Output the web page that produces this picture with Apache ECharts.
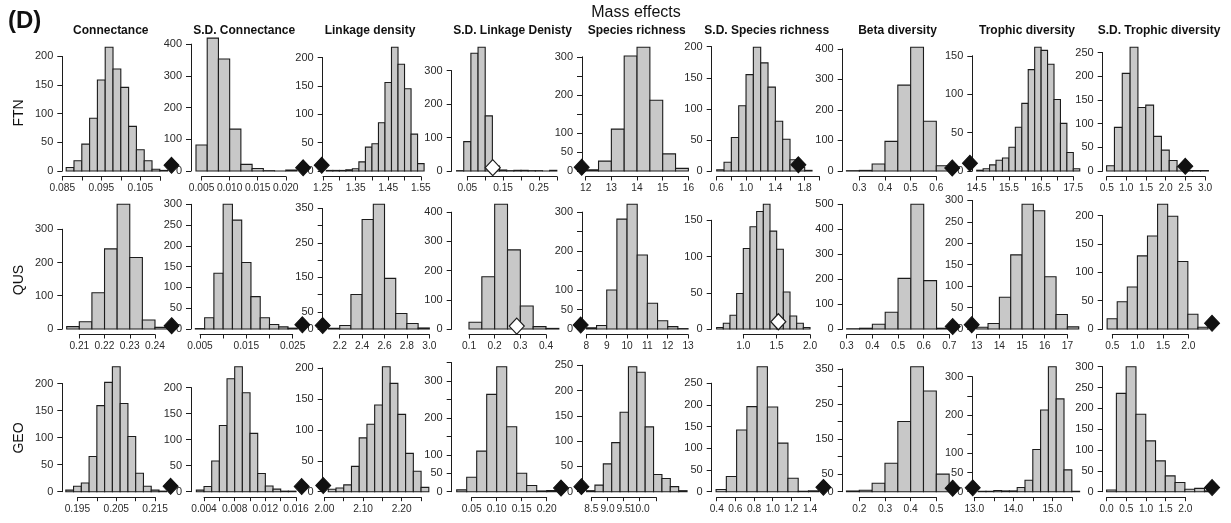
<!DOCTYPE html>
<html>
<head>
<meta charset="utf-8">
<title>Mass effects</title>
<script src="https://cdn.jsdelivr.net/npm/echarts@6/dist/echarts.min.js"></script>
<style>
  html, body { margin: 0; padding: 0; background: #ffffff; }
  #chart { width: 1231px; height: 523px; }
</style>
</head>
<body>
<div id="chart"></div>
<script>
// ---- Panel names ----------------------------------------------------------
const metrics = ['Connectance', 'S.D. Connectance', 'Linkage density', 'S.D. Linkage Denisty',
  'Species richness', 'S.D. Species richness', 'Beta diversity', 'Trophic diversity',
  'S.D. Trophic diversity'];
const regions = ['FTN', 'QUS', 'GEO'];

// ---- FTN -------------------------------------------------------------------
// histogram bins: [first break, bin width]
const binsFTN = [[0.086, 0.002], [0.004, 0.002], [1.26, 0.02], [0.02, 0.02], [12, 0.5],
  [0.6, 0.1], [0.25, 0.05], [14.5, 0.2], [0.5, 0.2]];
const countsFTN = [
  [6, 18, 47, 92, 159, 216, 178, 146, 78, 37, 18, 3, 1],
  [82, 419, 353, 132, 21, 8, 1, 0, 3],
  [1, 1, 1, 2, 4, 16, 42, 48, 85, 156, 218, 188, 145, 65, 13],
  [1, 88, 352, 370, 165, 15, 3, 1, 2, 2, 1, 1, 0, 2],
  [3, 26, 110, 302, 325, 186, 45, 7],
  [2, 14, 54, 105, 155, 199, 174, 135, 80, 51, 18, 6, 1],
  [1, 2, 23, 97, 281, 405, 163, 17],
  [1, 3, 8, 14, 17, 31, 57, 88, 132, 161, 157, 139, 93, 62, 24, 3],
  [11, 92, 206, 261, 134, 139, 73, 44, 22, 9, 1, 1, 1]
];
const observedFTN = [0.113, 0.0231, 1.246, 0.121, 11.844, 1.714, 0.662, 14.29, 2.51];
const openFTN = [false, false, false, true, false, false, false, false, false];
const xRangeFTN = [[0.085, 0.11397], [0.00311, 0.02325], [1.249, 1.5956], [0.0064, 0.322],
  [11.856, 16.258], [0.5318, 2.073], [0.2353, 0.6755], [14.363, 17.872], [0.398, 3.271]];
const xTicksFTN = [[0.085, 0.005], [0.005, 0.005], [1.25, 0.05], [0.05, 0.05], [12, 1],
  [0.6, 0.2], [0.3, 0.1], [14.5, 0.5], [0.5, 0.5]];
const xLabelsFTN = [
  ['0.085', '', '0.095', '', '0.105', ''],
  ['0.005', '0.010', '0.015', '0.020'],
  ['1.25', '', '1.35', '', '1.45', '', '1.55'],
  ['0.05', '', '0.15', '', '0.25', ''],
  ['12', '13', '14', '15', '16'],
  ['0.6', '', '1.0', '', '1.4', '', '1.8', ''],
  ['0.3', '0.4', '0.5', '0.6'],
  ['14.5', '', '15.5', '', '16.5', '', '17.5'],
  ['0.5', '1.0', '1.5', '2.0', '2.5', '3.0']
];
const yMaxFTN = [216, 390, 218, 370, 325, 199, 405, 161, 261];
const yTicksFTN = [[50, 200], [100, 400], [50, 200], [100, 300], [50, 300], [50, 200], [100, 400], [50, 150], [50, 250]];
const yHiddenFTN = [[], [], [], [], [150, 250], [], [], [], []];

// ---- QUS -------------------------------------------------------------------
const binsQUS = [[0.205, 0.005], [0.004, 0.002], [2.1, 0.1], [0.1, 0.05], [8, 0.5],
  [0.6, 0.1], [0.3, 0.05], [13, 0.5], [0.4, 0.2]];
const countsQUS = [
  [7, 22, 109, 241, 375, 215, 27, 5],
  [1, 27, 134, 300, 262, 160, 78, 27, 11, 5, 2],
  [2, 10, 100, 318, 362, 147, 45, 16, 3],
  [23, 179, 427, 271, 79, 8, 2],
  [3, 9, 100, 282, 320, 190, 66, 21, 6, 1],
  [2, 8, 19, 49, 111, 141, 162, 172, 135, 110, 51, 18, 8, 2],
  [1, 3, 19, 67, 203, 500, 194, 3],
  [4, 13, 74, 173, 291, 276, 122, 34, 5],
  [18, 48, 74, 129, 164, 220, 199, 119, 26, 3]
];
const observedQUS = [0.2466, 0.0271, 2.048, 0.286, 7.72, 1.525, 0.713, 12.78, 2.48];
const openQUS = [false, false, false, true, false, true, false, false, false];
const xRangeQUS = [[0.20326, 0.24805], [0.003057, 0.02745], [2.048, 3.057], [0.0326, 0.4728],
  [7.784, 13.342], [0.526, 2.22], [0.2844, 0.7246], [12.806, 17.79], [0.3105, 2.54]];
const xTicksQUS = [[0.21, 0.01], [0.005, 0.005], [2.2, 0.2], [0.1, 0.1], [8, 1],
  [1.0, 0.5], [0.3, 0.1], [13, 1], [0.5, 0.5]];
const xLabelsQUS = [
  ['0.21', '0.22', '0.23', '0.24'],
  ['0.005', '', '0.015', '', '0.025'],
  ['2.2', '2.4', '2.6', '2.8', '3.0'],
  ['0.1', '0.2', '0.3', '0.4'],
  ['8', '9', '10', '11', '12', '13'],
  ['1.0', '1.5', '2.0'],
  ['0.3', '0.4', '0.5', '0.6', '0.7'],
  ['13', '14', '15', '16', '17'],
  ['0.5', '1.0', '1.5', '2.0']
];
const yMaxQUS = [375, 300, 362, 427, 320, 172, 500, 291, 220];
const yTicksQUS = [[100, 300], [50, 300], [50, 350], [100, 400], [50, 300], [50, 150], [100, 500], [50, 300], [50, 200]];
const yHiddenQUS = [[], [], [100, 200, 300], [], [150, 250], [], [], [], []];

// ---- GEO -------------------------------------------------------------------
const binsGEO = [[0.192, 0.002], [0.003, 0.001], [2.01, 0.02], [0.02, 0.02], [8.35, 0.26],
  [0.393, 0.11], [0.15, 0.05], [13.1, 0.2], [0.0, 0.25]];
const countsGEO = [
  [3, 10, 16, 65, 159, 202, 231, 163, 102, 34, 10, 3, 1],
  [3, 10, 59, 127, 217, 240, 190, 112, 35, 11, 5, 1, 1],
  [4, 6, 11, 41, 87, 109, 140, 202, 175, 125, 62, 33, 7],
  [5, 39, 110, 264, 339, 176, 50, 17, 2, 3],
  [2, 13, 55, 97, 157, 247, 236, 128, 34, 26, 10, 2],
  [5, 35, 142, 196, 288, 195, 112, 31, 1, 2],
  [2, 4, 24, 81, 200, 356, 287, 50],
  [1, 1, 3, 2, 2, 11, 30, 110, 213, 326, 242, 57, 1],
  [4, 236, 300, 186, 122, 74, 38, 22, 6, 8, 2]
];
const observedGEO = [0.219, 0.01674, 1.997, 0.2287, 8.19, 1.543, 0.5636, 12.96, 2.695];
const openGEO = [false, false, false, false, false, false, false, false, false];
const xRangeGEO = [[0.1911, 0.2202], [0.0023, 0.01704], [1.9956, 2.2878], [0.01, 0.236],
  [8.208, 11.717], [0.346, 1.557], [0.1353, 0.5755], [12.949, 15.846], [-0.1017, 2.771]];
const xTicksGEO = [[0.195, 0.005], [0.004, 0.002], [2.0, 0.05], [0.05, 0.05], [8.5, 0.5],
  [0.4, 0.2], [0.2, 0.1], [13.0, 0.5], [0.0, 0.5]];
const xLabelsGEO = [
  ['0.195', '', '0.205', '', '0.215'],
  ['0.004', '', '0.008', '', '0.012', '', '0.016'],
  ['2.00', '', '2.10', '', '2.20', ''],
  ['0.05', '0.10', '0.15', '0.20'],
  ['8.5', '9.0', '9.5', '10.0', ''],
  ['0.4', '0.6', '0.8', '1.0', '1.2', '1.4'],
  ['0.2', '0.3', '0.4', '0.5'],
  ['13.0', '', '14.0', '', '15.0', ''],
  ['0.0', '0.5', '1.0', '1.5', '2.0']
];
const yMaxGEO = [231, 240, 202, 339, 247, 288, 356, 326, 300];
const yTicksGEO = [[50, 200], [50, 200], [50, 200], [50, 350], [50, 250], [50, 250], [50, 350], [50, 300], [50, 300]];
const yHiddenGEO = [[], [], [], [150, 250, 350], [], [], [100, 200, 300], [150, 250], []];

// marks drawn at this height above the baseline (in counts)
const observedHeight = 10;

const rows = [
  { bins: binsFTN, counts: countsFTN, obs: observedFTN, open: openFTN, xRange: xRangeFTN,
    xTicks: xTicksFTN, xLabels: xLabelsFTN, yMax: yMaxFTN, yTicks: yTicksFTN, yHidden: yHiddenFTN },
  { bins: binsQUS, counts: countsQUS, obs: observedQUS, open: openQUS, xRange: xRangeQUS,
    xTicks: xTicksQUS, xLabels: xLabelsQUS, yMax: yMaxQUS, yTicks: yTicksQUS, yHidden: yHiddenQUS },
  { bins: binsGEO, counts: countsGEO, obs: observedGEO, open: openGEO, xRange: xRangeGEO,
    xTicks: xTicksGEO, xLabels: xLabelsGEO, yMax: yMaxGEO, yTicks: yTicksGEO, yHidden: yHiddenGEO }
];

// ---- Layout ---------------------------------------------------------------
const FONT = '"Liberation Sans", Arial, Helvetica, sans-serif';
const INK = '#1c1c1c';
const TICK_FONT = 10.2;
const colLeft = [62.3, 191, 322.7, 451.7, 582, 711.7, 842.7, 972.3, 1102.7];
const titleCenter = [110.8, 244.2, 370, 512.5, 636.7, 766.7, 897.5, 1027, 1159];
const rowBase = [171, 329, 491.7];
const rowTop = [47.3, 204.3, 366.7];
const rowLabelY = [113, 280, 438];
const PW = 113;   // width of a panel's data region
const PAD = 16;   // extra room either side for the observed marker

const grids = [], xAxes = [], yAxes = [], series = [];

function renderBar(params, api) {
  const p0 = api.coord([api.value(0), 0]);
  const p1 = api.coord([api.value(1), api.value(2)]);
  return {
    type: 'rect',
    shape: { x: p0[0], y: p1[1], width: p1[0] - p0[0], height: p0[1] - p1[1] },
    style: { fill: '#c8c8c8', stroke: INK, lineWidth: 1.1 }
  };
}

rows.forEach((R, r) => {
  for (let c = 0; c < metrics.length; c++) {
    const [a, b] = R.xRange[c];
    const k = PW / (b - a);
    const L = colLeft[c];
    const base = rowBase[r], top = rowTop[r];
    const yMax = R.yMax[c];

    // data region
    const gi = grids.length;
    grids.push({ left: L - PAD, top: top, width: PW + 2 * PAD, height: base - top });
    xAxes.push({ gridIndex: gi, type: 'value', min: a - PAD / k, max: b + PAD / k, show: false });
    yAxes.push({ gridIndex: gi, type: 'value', min: 0, max: yMax, show: false });

    const [b0, bw] = R.bins[c];
    series.push({
      type: 'custom', xAxisIndex: gi, yAxisIndex: gi, renderItem: renderBar, clip: false,
      encode: { x: [0, 1], y: 2 },
      data: R.counts[c].map((n, i) => [b0 + i * bw, b0 + (i + 1) * bw, n]),
      z: 3, silent: true
    });
    series.push({
      type: 'scatter', xAxisIndex: gi, yAxisIndex: gi, clip: false, silent: true,
      data: [[R.obs[c], observedHeight]], symbol: 'diamond', symbolSize: [15, 16],
      itemStyle: R.open[c]
        ? { color: '#ffffff', borderColor: INK, borderWidth: 1.2, opacity: 1 }
        : { color: '#111111', borderColor: '#111111', borderWidth: 1, opacity: 1 },
      z: 10
    });

    // x axis, drawn between its first and last tick
    const [t0, st] = R.xTicks[c];
    const labs = R.xLabels[c];
    const t1 = t0 + st * (labs.length - 1);
    const xi = grids.length;
    grids.push({ left: L + (t0 - a) * k, width: (t1 - t0) * k, top: base + 4.5, height: 1 });
    xAxes.push({
      gridIndex: xi, type: 'value', min: t0, max: t1, interval: st, position: 'bottom',
      axisLine: { show: true, onZero: false, lineStyle: { color: INK, width: 1 } },
      axisTick: { show: true, length: 4, lineStyle: { color: INK, width: 1 } },
      splitLine: { show: false },
      axisLabel: {
        show: true, margin: 7, fontSize: TICK_FONT, color: '#2a2a2a', fontFamily: FONT,
        showMinLabel: true, showMaxLabel: true,
        formatter: v => labs[Math.round((v - t0) / st)] || ''
      }
    });
    yAxes.push({ gridIndex: xi, type: 'value', show: false });

    // y axis, drawn from 0 to its last tick
    const [ys, yt] = R.yTicks[c];
    const hidden = R.yHidden[c];
    const yTopPx = base - yt / yMax * (base - top);
    const yi = grids.length;
    grids.push({ left: L, width: 1, top: yTopPx, height: base - yTopPx });
    xAxes.push({ gridIndex: yi, type: 'value', show: false });
    yAxes.push({
      gridIndex: yi, type: 'value', min: 0, max: yt, interval: ys, position: 'left',
      axisLine: { show: true, onZero: false, lineStyle: { color: INK, width: 1 } },
      axisTick: { show: true, length: 5, lineStyle: { color: INK, width: 1 } },
      splitLine: { show: false },
      axisLabel: {
        show: true, margin: 9, fontSize: 11, color: '#2a2a2a', fontFamily: FONT,
        showMinLabel: true, showMaxLabel: true,
        formatter: v => hidden.indexOf(v) >= 0 ? '' : String(v)
      }
    });
  }
});

// ---- Headings -------------------------------------------------------------
function centeredText(text, x, y, font, rotation) {
  return {
    type: 'text', x: x, y: y, rotation: rotation || 0, silent: true,
    style: {
      text: text, x: 0, y: 0, font: font, fill: '#111',
      align: 'center', verticalAlign: 'middle', textAlign: 'center', textVerticalAlign: 'middle'
    }
  };
}
const graphics = [];
graphics.push({
  type: 'text', x: 8, y: 21, silent: true,
  style: { text: '(D)', x: 0, y: 0, font: 'bold 24px ' + FONT, fill: '#111',
    align: 'left', verticalAlign: 'middle', textAlign: 'left', textVerticalAlign: 'middle' }
});
graphics.push(centeredText('Mass effects', 636, 13, '16px ' + FONT));
metrics.forEach((m, c) => graphics.push(centeredText(m, titleCenter[c], 31, 'bold 12px ' + FONT)));
regions.forEach((g, r) => graphics.push(centeredText(g, 19, rowLabelY[r], '14px ' + FONT, Math.PI / 2)));

const chart = echarts.init(document.getElementById('chart'), null, { renderer: 'canvas' });
chart.setOption({
  animation: false,
  backgroundColor: '#ffffff',
  grid: grids,
  xAxis: xAxes,
  yAxis: yAxes,
  series: series,
  graphic: graphics
});
</script>
</body>
</html>
